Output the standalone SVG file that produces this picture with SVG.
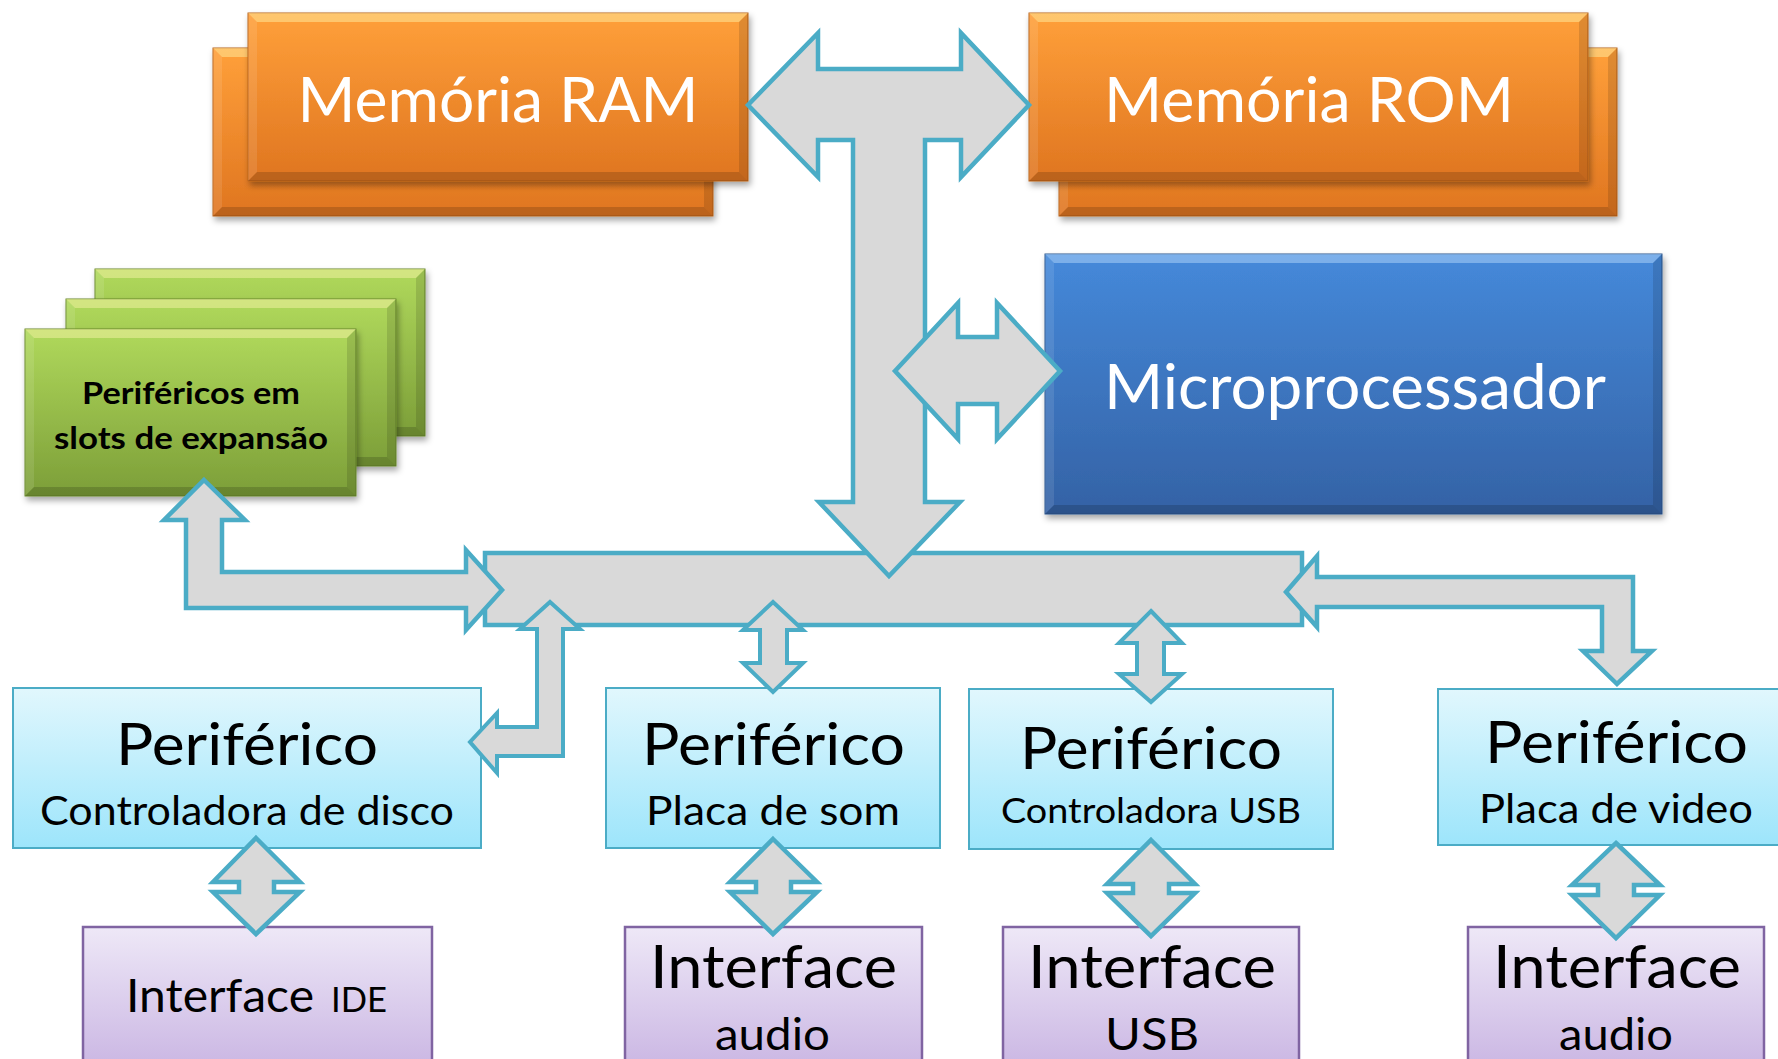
<svg xmlns="http://www.w3.org/2000/svg" width="1778" height="1059" viewBox="0 0 1778 1059">
<defs>
<linearGradient id="gOrange" x1="0" y1="0" x2="0" y2="1"><stop offset="0" stop-color="#FFA03A"/><stop offset="1" stop-color="#DF7520"/></linearGradient>
<linearGradient id="gBlue" x1="0" y1="0" x2="0" y2="1"><stop offset="0" stop-color="#4589DA"/><stop offset="1" stop-color="#3462A5"/></linearGradient>
<linearGradient id="gGreen" x1="0" y1="0" x2="0" y2="1"><stop offset="0" stop-color="#B0D95C"/><stop offset="1" stop-color="#7C9E38"/></linearGradient>
<linearGradient id="gCyan" x1="0" y1="0" x2="0" y2="1"><stop offset="0" stop-color="#E1F7FD"/><stop offset="1" stop-color="#9DE5FB"/></linearGradient>
<linearGradient id="gLav" x1="0" y1="0" x2="0" y2="1"><stop offset="0" stop-color="#EEE8F7"/><stop offset="1" stop-color="#C8B3E2"/></linearGradient>
<filter id="sh" x="-5%" y="-5%" width="115%" height="125%"><feDropShadow dx="2" dy="4" stdDeviation="3" flood-color="#000" flood-opacity="0.35"/></filter>
</defs>
<style>
.orange{fill:url(#gOrange);stroke:#B9621C;stroke-width:1;filter:url(#sh)}
.blue{fill:url(#gBlue);stroke:#2D578F;stroke-width:1;filter:url(#sh)}
.green{fill:url(#gGreen);stroke:#6A8A2E;stroke-width:1;filter:url(#sh)}
.cyan{fill:url(#gCyan);stroke:#4BACC6;stroke-width:2}
.lav{fill:url(#gLav);stroke:#8064A2;stroke-width:2.5}
.bt{fill:#FFF6B0;fill-opacity:.45}
.btb{fill:#BFE0FF;fill-opacity:.45}
.bl{fill:#fff;fill-opacity:.1}
.br{fill:#000;fill-opacity:.12}
.bb{fill:#000;fill-opacity:.16}
.arr{fill:#D9D9D9;stroke:#4BACC6;stroke-width:4.5;stroke-linejoin:miter;stroke-miterlimit:10}
.arrs{fill:#D9D9D9;stroke:#4BACC6;stroke-width:4;stroke-linejoin:miter;stroke-miterlimit:10}
text{font-family:Lato,"Open Sans","Liberation Sans",sans-serif;text-anchor:middle}
.wt{fill:#fff}
.bk{fill:#000}
</style>

<g id="ram">
<rect class="orange" x="213" y="48" width="500" height="168"/>
<polygon class="bt" points="213,48 713,48 704,57 222,57"/>
<polygon class="bl" points="213,48 222,57 222,207 213,216"/>
<polygon class="br" points="713,48 713,216 704,207 704,57"/>
<polygon class="bb" points="213,216 713,216 704,207 222,207"/>
<rect class="orange" x="248" y="13" width="500" height="168"/>
<polygon class="bt" points="248,13 748,13 739,22 257,22"/>
<polygon class="bl" points="248,13 257,22 257,172 248,181"/>
<polygon class="br" points="748,13 748,181 739,172 739,22"/>
<polygon class="bb" points="248,181 748,181 739,172 257,172"/>
<text class="wt" x="498" y="122" font-size="62" textLength="401" lengthAdjust="spacingAndGlyphs">Memória RAM</text>
</g>

<g id="rom">
<rect class="orange" x="1059" y="48" width="558" height="168"/>
<polygon class="bt" points="1059,48 1617,48 1608,57 1068,57"/>
<polygon class="bl" points="1059,48 1068,57 1068,207 1059,216"/>
<polygon class="br" points="1617,48 1617,216 1608,207 1608,57"/>
<polygon class="bb" points="1059,216 1617,216 1608,207 1068,207"/>
<rect class="orange" x="1029" y="13" width="559" height="168"/>
<polygon class="bt" points="1029,13 1588,13 1579,22 1038,22"/>
<polygon class="bl" points="1029,13 1038,22 1038,172 1029,181"/>
<polygon class="br" points="1588,13 1588,181 1579,172 1579,22"/>
<polygon class="bb" points="1029,181 1588,181 1579,172 1038,172"/>
<text class="wt" x="1309" y="122" font-size="62" textLength="410" lengthAdjust="spacingAndGlyphs">Memória ROM</text>
</g>

<g id="cpu">
<rect class="blue" x="1045" y="254" width="617" height="260"/>
<polygon class="btb" points="1045,254 1662,254 1653,263 1054,263"/>
<polygon class="bl" points="1045,254 1054,263 1054,505 1045,514"/>
<polygon class="br" points="1662,254 1662,514 1653,505 1653,263"/>
<polygon class="bb" points="1045,514 1662,514 1653,505 1054,505"/>
<text class="wt" x="1355" y="409" font-size="61" textLength="502" lengthAdjust="spacingAndGlyphs">Microprocessador</text>
</g>

<g id="slots">
<rect class="green" x="95" y="269" width="330" height="167"/>
<polygon class="bt" points="95,269 425,269 416,278 104,278"/>
<polygon class="bl" points="95,269 104,278 104,427 95,436"/>
<polygon class="br" points="425,269 425,436 416,427 416,278"/>
<polygon class="bb" points="95,436 425,436 416,427 104,427"/>
<rect class="green" x="66" y="299" width="330" height="167"/>
<polygon class="bt" points="66,299 396,299 387,308 75,308"/>
<polygon class="bl" points="66,299 75,308 75,457 66,466"/>
<polygon class="br" points="396,299 396,466 387,457 387,308"/>
<polygon class="bb" points="66,466 396,466 387,457 75,457"/>
<rect class="green" x="25" y="329" width="331" height="167"/>
<polygon class="bt" points="25,329 356,329 347,338 34,338"/>
<polygon class="bl" points="25,329 34,338 34,487 25,496"/>
<polygon class="br" points="356,329 356,496 347,487 347,338"/>
<polygon class="bb" points="25,496 356,496 347,487 34,487"/>
<text class="bk" x="191" y="404" font-size="31" font-weight="bold" textLength="218" lengthAdjust="spacingAndGlyphs">Periféricos em</text>
<text class="bk" x="191" y="449" font-size="31" font-weight="bold" textLength="274" lengthAdjust="spacingAndGlyphs">slots de expansão</text>
</g>

<g id="per-disco">
<rect class="cyan" x="13" y="688" width="468" height="160"/>
<text class="bk" x="247" y="765" font-size="58" textLength="262" lengthAdjust="spacingAndGlyphs">Periférico</text>
<text class="bk" x="247" y="825" font-size="40" textLength="414" lengthAdjust="spacingAndGlyphs">Controladora de disco</text>
</g>
<g id="per-som">
<rect class="cyan" x="606" y="688" width="334" height="160"/>
<text class="bk" x="773.5" y="765" font-size="58" textLength="263" lengthAdjust="spacingAndGlyphs">Periférico</text>
<text class="bk" x="773" y="825" font-size="40" textLength="254" lengthAdjust="spacingAndGlyphs">Placa de som</text>
</g>
<g id="per-usb">
<rect class="cyan" x="969" y="689" width="364" height="160"/>
<text class="bk" x="1151" y="769" font-size="58" textLength="262" lengthAdjust="spacingAndGlyphs">Periférico</text>
<text class="bk" x="1151" y="823" font-size="35" textLength="300" lengthAdjust="spacingAndGlyphs">Controladora USB</text>
</g>
<g id="per-video">
<rect class="cyan" x="1438" y="689" width="358" height="156"/>
<text class="bk" x="1616.5" y="763" font-size="58" textLength="263" lengthAdjust="spacingAndGlyphs">Periférico</text>
<text class="bk" x="1616" y="823" font-size="40" textLength="274" lengthAdjust="spacingAndGlyphs">Placa de video</text>
</g>

<g id="if-ide">
<rect class="lav" x="83" y="927" width="349" height="150"/>
<text class="bk" x="126" y="1012" font-size="47" style="text-anchor:start"><tspan textLength="188" lengthAdjust="spacingAndGlyphs">Interface</tspan><tspan x="331" font-size="35" textLength="56" lengthAdjust="spacingAndGlyphs">IDE</tspan></text>
</g>
<g id="if-audio1">
<rect class="lav" x="625" y="927" width="297" height="150"/>
<text class="bk" x="773.5" y="988" font-size="60" textLength="247" lengthAdjust="spacingAndGlyphs">Interface</text>
<text class="bk" x="772.5" y="1050" font-size="44" textLength="115" lengthAdjust="spacingAndGlyphs">audio</text>
</g>
<g id="if-usb">
<rect class="lav" x="1003" y="927" width="296" height="150"/>
<text class="bk" x="1152" y="988" font-size="60" textLength="248" lengthAdjust="spacingAndGlyphs">Interface</text>
<text class="bk" x="1152" y="1050" font-size="44" textLength="94" lengthAdjust="spacingAndGlyphs">USB</text>
</g>
<g id="if-audio2">
<rect class="lav" x="1468" y="927" width="296" height="150"/>
<text class="bk" x="1617" y="988" font-size="60" textLength="248" lengthAdjust="spacingAndGlyphs">Interface</text>
<text class="bk" x="1616" y="1050" font-size="44" textLength="114" lengthAdjust="spacingAndGlyphs">audio</text>
</g>

<g id="connectors">
<rect id="bus" class="arr" x="485" y="553" width="817" height="72"/>
<polygon class="arr" points="748,105 818,33 818,69 961,69 961,33 1029,105 961,177 961,140 925,140 925,502 960,502 889,576 819,502 853,502 853,140 818,140 818,177"/>
<polygon class="arr" points="895,371 958,303 958,337 997,337 997,303 1060,371 997,439 997,404 958,404 958,439"/>
<polygon class="arr" points="204,480 245,520 222,520 222,572 466,572 466,550 502,590 466,630 466,608 186,608 186,520 164,520"/>
<polygon class="arr" points="1286,592 1317,556 1317,577 1633,577 1633,651 1652,651 1617,684 1583,651 1602,651 1602,607 1317,607 1317,627"/>
<polygon class="arrs" points="550,602 580,629 563,629 563,756 497,756 497,773 470,742 497,713 497,727 537,727 537,629 520,629"/>
<polygon class="arrs" points="773,602 803,630 787,630 787,663 803,663 773,692 743,663 760,663 760,630 743,630"/>
<polygon class="arrs" points="1151,611 1182,643 1164,643 1164,674 1182,674 1151,702 1119,674 1137,674 1137,643 1119,643"/>
<polygon class="arr" points="256,838 300,882 274,882 274,892 300,892 256,934 213,892 239,892 239,882 213,882"/>
<polygon class="arr" points="773,839 817,882 791,882 791,892 817,892 773,934 730,892 756,892 756,882 730,882"/>
<polygon class="arr" points="1151,840 1195,884 1169,884 1169,893 1195,893 1151,936 1107,893 1133,893 1133,884 1107,884"/>
<polygon class="arr" points="1616,843 1660,885 1634,885 1634,895 1660,895 1616,938 1572,895 1598,895 1598,885 1572,885"/>
</g>
</svg>
